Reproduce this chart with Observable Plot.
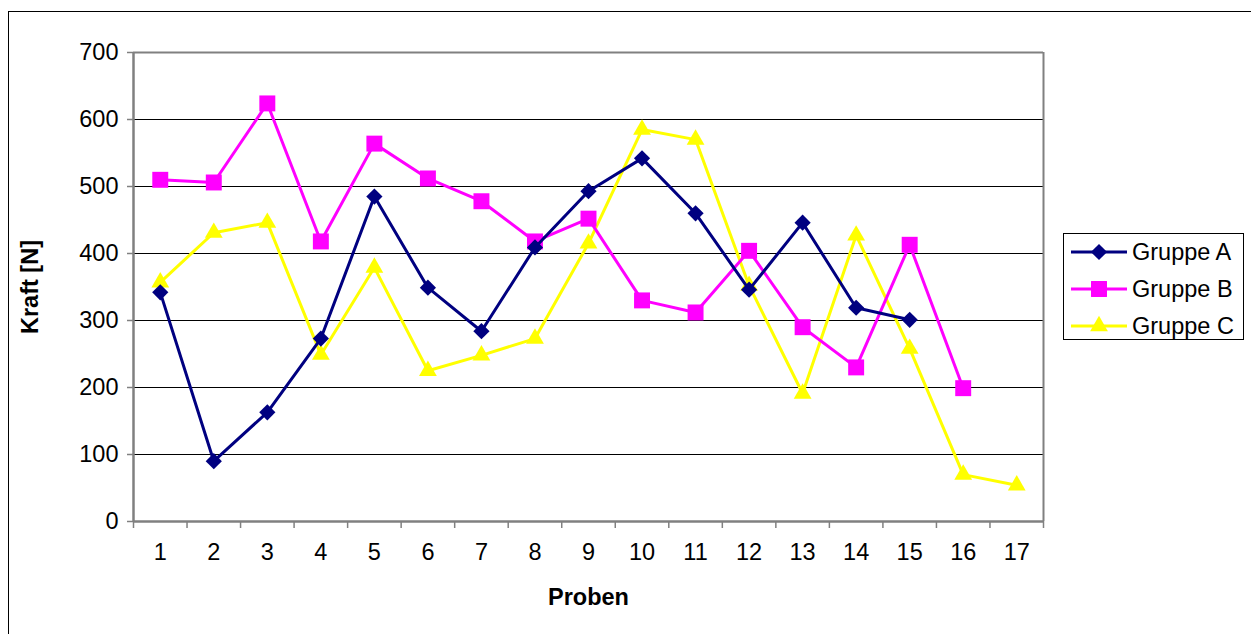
<!DOCTYPE html>
<html>
<head>
<meta charset="utf-8">
<script src="https://cdn.jsdelivr.net/npm/d3@7"></script>
<script src="https://cdn.jsdelivr.net/npm/@observablehq/plot@0.6"></script>
<style>
  html, body { margin: 0; padding: 0; background: #fff; }
  #wrap { position: relative; width: 1251px; height: 634px; overflow: hidden; font-family: "Liberation Sans", Arial, sans-serif; }
  #border { position: absolute; left: 8px; top: 11px; width: 1260px; height: 640px; border: 1px solid #000; box-sizing: border-box; pointer-events: none; }
  #legend { position: absolute; left: 1063px; top: 233px; width: 181px; height: 107px; border: 1px solid #000; box-sizing: border-box; background: #fff; }
  .row { position: absolute; left: 0; height: 30px; display: flex; align-items: center; }
  .row span { font-size: 23.5px; color: #000; margin-left: 4px; }
</style>
</head>
<body>
<div id="wrap">
  <div id="chart"></div>
  <div id="border"></div>
  <div id="legend"></div>
</div>
<script>
const proben = d3.range(1, 18);
const gruppeA = [342, 90, 163, 273, 485, 349, 284, 409, 493, 542, 460, 346, 446, 319, 301];
const gruppeB = [510, 506, 624, 418, 564, 512, 478, 418, 452, 330, 312, 404, 290, 230, 413, 199];
const gruppeC = [357, 431, 446, 249, 379, 225, 248, 273, 415, 585, 570, 352, 191, 427, 258, 70, 54];
const seriesNames = ["Gruppe A", "Gruppe B", "Gruppe C"];
const colors = ["#000080", "#FF00FF", "#FFFF00"];
const yTicks = [0, 100, 200, 300, 400, 500, 600, 700];

const toRows = (vals, name) => vals.map((v, i) => ({probe: proben[i], kraft: v, gruppe: name}));
const dataA = toRows(gruppeA, seriesNames[0]);
const dataB = toRows(gruppeB, seriesNames[1]);
const dataC = toRows(gruppeC, seriesNames[2]);
const boundaries = d3.range(0.5, 18, 1);

const fs = "23.5px";
const chart = Plot.plot({
  width: 1251,
  height: 634,
  marginLeft: 133,
  marginRight: 208,
  marginTop: 52,
  marginBottom: 113,
  style: {fontFamily: '"Liberation Sans", Arial, sans-serif', fontSize: fs, background: "transparent", color: "#000"},
  x: {type: "linear", domain: [0.5, 17.5]},
  y: {domain: [0, 700]},
  marks: [
    Plot.ruleY(yTicks.filter(d => d > 0 && d < 700), {stroke: "#000", strokeWidth: 1}),
    Plot.ruleY([700], {stroke: "#808080", strokeWidth: 2}),
    Plot.ruleX([17.5], {stroke: "#808080", strokeWidth: 2}),
    Plot.axisY({ticks: yTicks, tickSize: 6, tickPadding: 9, stroke: "#808080", strokeWidth: 1.5, fontSize: fs, label: null}),
    Plot.axisX({ticks: boundaries, tickFormat: () => "", tickSize: 7, stroke: "#808080", strokeWidth: 1.5, label: null}),
    Plot.axisX({ticks: proben, tickFormat: d => String(d), tickSize: 0, tickPadding: 22, fontSize: fs, label: null}),
    Plot.ruleX([0.5], {stroke: "#808080", strokeWidth: 2.5}),
    Plot.ruleY([0], {stroke: "#808080", strokeWidth: 2.5}),
    Plot.text(["Kraft [N]"], {frameAnchor: "left", textAnchor: "middle", dx: -103, rotate: -90, fontWeight: "bold", fontSize: fs}),
    Plot.text(["Proben"], {frameAnchor: "bottom", dy: 83, fontWeight: "bold", fontSize: fs}),
    Plot.line(dataC, {x: "probe", y: "kraft", stroke: colors[2], strokeWidth: 3}),
    Plot.dot(dataC, {x: "probe", y: "kraft", symbol: "triangle", r: 6.6, fill: colors[2]}),
    Plot.line(dataB, {x: "probe", y: "kraft", stroke: colors[1], strokeWidth: 3}),
    Plot.dot(dataB, {x: "probe", y: "kraft", symbol: "square", r: 9, fill: colors[1]}),
    Plot.line(dataA, {x: "probe", y: "kraft", stroke: colors[0], strokeWidth: 3}),
    Plot.dot(dataA, {x: "probe", y: "kraft", symbol: "diamond2", r: 7.3, fill: colors[0], stroke: "none"})
  ]
});
document.getElementById("chart").appendChild(chart);

// Legend
const legend = document.getElementById("legend");
const symbols = ["diamond2", "square", "triangle"];
const radii = [7.3, 9, 6.6];
seriesNames.forEach((name, i) => {
  const row = document.createElement("div");
  row.className = "row";
  row.style.top = (3 + i * 37) + "px";
  row.style.left = "6px";
  const svg = d3.create("svg").attr("width", 58).attr("height", 30);
  svg.append("line").attr("x1", 1).attr("x2", 57).attr("y1", 15).attr("y2", 15).attr("stroke", colors[i]).attr("stroke-width", 3);
  const sym = {diamond2: d3.symbolDiamond2, square: d3.symbolSquare, triangle: d3.symbolTriangle}[symbols[i]];
  svg.append("path").attr("transform", "translate(29,15)").attr("d", d3.symbol(sym, Math.PI * radii[i] * radii[i])()).attr("fill", colors[i]);
  row.appendChild(svg.node());
  const sp = document.createElement("span");
  sp.textContent = name;
  row.appendChild(sp);
  legend.appendChild(row);
});
</script>
</body>
</html>
